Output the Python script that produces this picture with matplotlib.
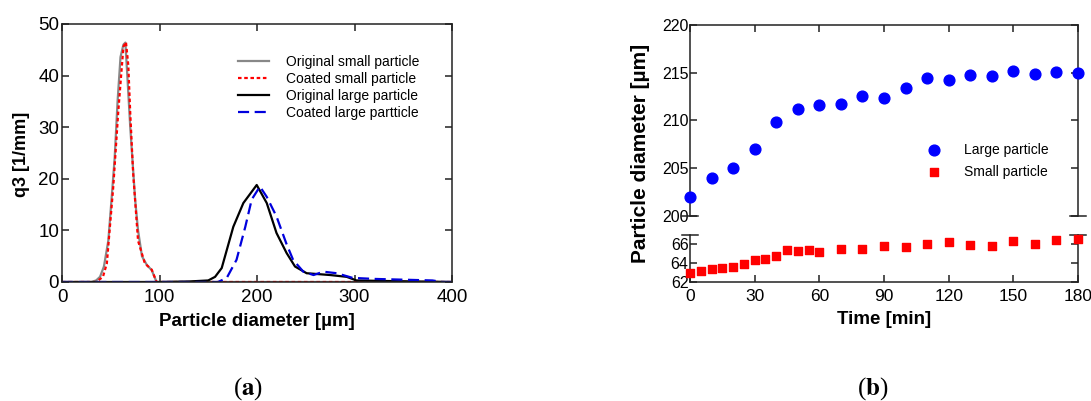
import matplotlib
matplotlib.use("Agg")
import matplotlib.pyplot as plt

plt.rcParams['font.family'] = ['Liberation Sans', 'DejaVu Sans']
plt.rcParams['mathtext.fontset'] = 'stix'

# ---- panel (a): size distributions ----
x_orig_small = [0, 30, 35, 39, 43, 47.5, 51, 54, 57, 60, 63, 65, 67, 70, 75, 78, 82, 87, 92, 97, 100, 400]
q_orig_small = [0, 0, 0.3, 1, 3, 8, 16.5, 24, 35, 43.6, 46, 46.4, 40, 30, 16, 10, 5, 3.3, 2.3, 0, 0, 0]

x_coat_small = [0, 35, 42, 46, 52.6, 57.7, 63, 65.6, 68, 70, 73, 78, 85, 92, 97, 100, 400]
q_coat_small = [0, 0, 1, 3.6, 18.5, 33, 45.6, 46.5, 42, 32.7, 21, 8, 3.6, 2.4, 0, 0, 0]

x_orig_large = [0, 100, 130, 150, 157, 163.8, 175.7, 186, 199.7, 210, 220, 230.4, 239, 250.9, 275, 292, 302, 330, 400]
q_orig_large = [0, 0, 0.1, 0.3, 1, 2.7, 10.7, 15.3, 18.8, 15.3, 9.5, 5.6, 3, 1.7, 1.35, 1, 0.3, 0.2, 0]

x_coat_large = [0, 160, 169, 179, 188, 194.6, 203, 210, 220, 230, 237, 247.5, 258, 268, 281.7, 298, 320, 340, 360, 380, 390, 400]
q_coat_large = [0, 0, 0.8, 4.3, 10.7, 16, 18.5, 16.5, 12.7, 7.5, 4.3, 2, 1.35, 2, 1.7, 0.8, 0.6, 0.5, 0.4, 0.3, 0, 0]

# ---- panel (b): diameter over time ----
t_large = [0, 10, 20, 30, 40, 50, 60, 70, 80, 90, 100, 110, 120, 130, 140, 150, 160, 170, 180]
d_large = [202.0, 204.0, 205.0, 207.0, 209.8, 211.2, 211.6, 211.7, 212.6, 212.4, 213.4, 214.5, 214.2,
           214.8, 214.7, 215.2, 214.9, 215.1, 215.0]

t_small = [0, 5, 10, 15, 20, 25, 30, 35, 40, 45, 50, 55, 60, 70, 80, 90, 100, 110, 120, 130, 140, 150, 160, 170, 180]
d_small = [62.94, 63.11, 63.36, 63.46, 63.57, 63.88, 64.33, 64.43, 64.75, 65.37, 65.27, 65.34, 65.13, 65.41,
           65.48, 65.79, 65.62, 66.03, 66.21, 65.9, 65.79, 66.31, 65.97, 66.42, 66.49]

W, H = 1091, 401
fig = plt.figure(figsize=(W / 100, H / 100), dpi=100)


def box(l, t, r, b):
    # pixel box -> figure fraction
    return [l / W, (H - b) / H, (r - l) / W, (b - t) / H]


def style_ax(ax, size):
    for s in ax.spines.values():
        s.set_linewidth(1.1)
        s.set_color('#222222')
    ax.tick_params(direction='in', length=5, width=1.1, colors='#222222', labelsize=size,
                   labelcolor='black', pad=3)


# panel a
axa = fig.add_axes(box(62, 24, 452, 282))
axa.plot(x_orig_small, q_orig_small, color='#888888', lw=1.6, label='Original small particle')
axa.plot(x_coat_small, q_coat_small, color='#ff0000', lw=1.6, ls=(0, (1.6, 1.2)), label='Coated small particle')
axa.plot(x_orig_large, q_orig_large, color='black', lw=1.6, label='Original large particle')
axa.plot(x_coat_large, q_coat_large, color='#0000dd', lw=1.6, ls=(0, (5, 2.5)), label='Coated large partticle')
axa.set_xlim(0, 400)
axa.set_ylim(0, 50)
axa.set_xticks([0, 100, 200, 300, 400])
axa.set_yticks([0, 10, 20, 30, 40, 50])
style_ax(axa, 13.5)
axa.tick_params(top=True, right=True)
axa.tick_params(axis='x', pad=5)
axa.tick_params(axis='y', pad=2)
axa.set_xlabel('Particle diameter [µm]', fontsize=13.5, fontweight='bold', labelpad=5)
fig.text(21 / W, 1 - 154 / H, 'q3 [1/mm]', rotation=90, fontsize=13, fontweight='bold',
         ha='center', va='center')
axa.legend(loc='upper left', bbox_to_anchor=(0.42, 0.93), frameon=False, fontsize=10,
           handlelength=2.2, handletextpad=1.2, labelspacing=0.22)

# panel b, upper part
axb = fig.add_axes(box(690, 25, 1078, 216))
# panel b, lower part
axc = fig.add_axes(box(690, 235, 1078, 282))

axb.scatter(t_large, d_large, s=60, color='#0000ff', marker='o', clip_on=False, zorder=3,
            label='Large particle')
axc.scatter(t_small, d_small, s=38, color='#ff0000', marker='s', clip_on=False, zorder=3,
            label='Small particle')

axb.set_xlim(0, 180)
axc.set_xlim(0, 180)
axb.set_ylim(200, 220)
axc.set_ylim(62, 66.92)
axb.set_yticks([200, 205, 210, 215, 220])
axc.set_yticks([62, 64, 66])
axb.set_xticks([0, 30, 60, 90, 120, 150, 180])
axc.set_xticks([0, 30, 60, 90, 120, 150, 180])

style_ax(axb, 11.5)
style_ax(axc, 11.5)
axb.spines['bottom'].set_visible(False)
axc.spines['top'].set_visible(False)
axb.tick_params(bottom=False, labelbottom=False, top=True, right=True, pad=1)
axc.tick_params(axis='x', labelsize=12.5, pad=5)
axc.tick_params(axis='y', right=True, pad=1)

# break marks
for ax, y in ((axb, 0), (axc, 1)):
    for x in (0, 1):
        ax.plot([x - 0.02, x + 0.02], [y, y], transform=ax.transAxes, color='#222222',
                lw=1.1, clip_on=False)

axc.set_xlabel('Time [min]', fontsize=13.5, fontweight='bold', labelpad=5)
fig.text(641 / W, 1 - 153 / H, 'Particle diameter [µm]', rotation=90, fontsize=15,
         fontweight='bold', ha='center', va='center')

hb, lb = axb.get_legend_handles_labels()
hc, lc = axc.get_legend_handles_labels()
axb.legend(hb + hc, lb + lc, loc='upper left', bbox_to_anchor=(0.56, 0.45), frameon=False,
           fontsize=10, handletextpad=1.2, labelspacing=0.6, scatterpoints=1)

# captions
fig.text(248 / W, 1 - 389 / H, r'($\mathbf{a}$)', fontsize=18, ha='center', va='center',
         family='Liberation Serif')
fig.text(873 / W, 1 - 389 / H, r'($\mathbf{b}$)', fontsize=18, ha='center', va='center',
         family='Liberation Serif')

fig.savefig('out.png', dpi=100)
